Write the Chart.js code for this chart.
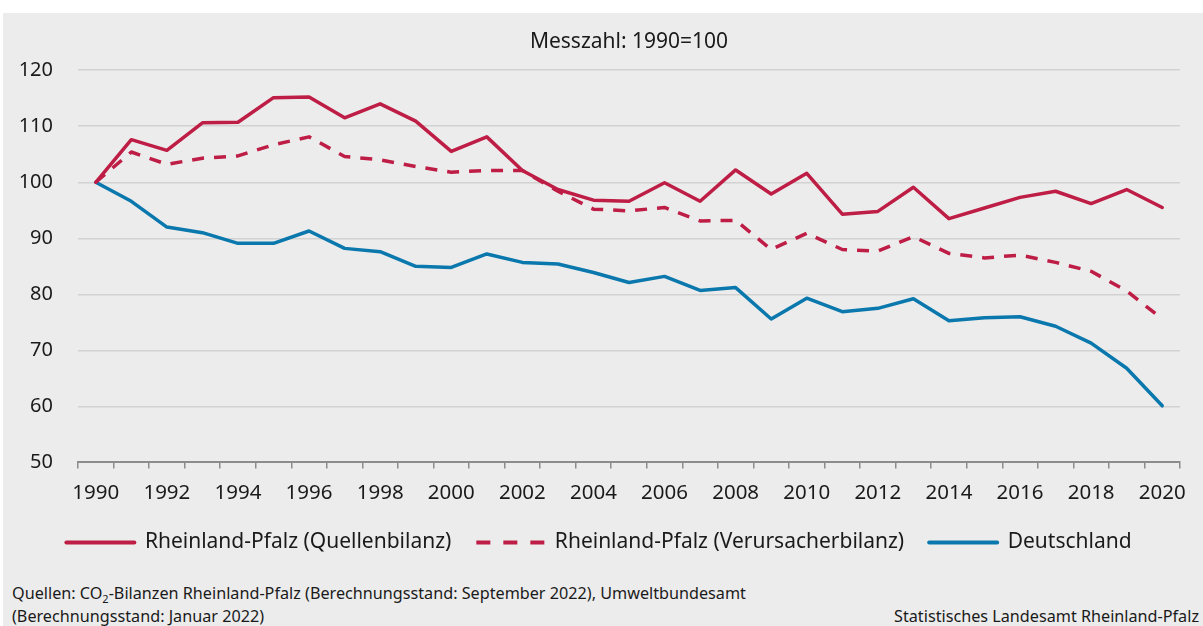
<!DOCTYPE html>
<html lang="de">
<head>
<meta charset="utf-8">
<title>CO2-Emissionen Messzahl</title>
<script src="https://cdn.jsdelivr.net/npm/chart.js@4.4.1/dist/chart.umd.min.js"></script>
<style>
    html, body { margin: 0; padding: 0; background: #ffffff; }
    #panel {
        position: absolute; left: 3px; top: 13px; width: 1200px; height: 613px;
        background: #ececec; font-family: "Noto Sans", "Open Sans", sans-serif; color: #1a1a1a;
    }
    #chartBox { position: absolute; left: 0; top: 0; width: 1200px; height: 550px; }
    .note { position: absolute; font-size: 16.2px; line-height: 23px; white-space: nowrap; }
    #src { left: 9px; top: 569px; }
    #org { right: 4px; top: 592px; }
</style>
</head>
<body>
<div id="panel">
    <div id="chartBox"><canvas id="co2Chart"></canvas></div>
    <div class="note" id="src">Quellen: CO<sub style="font-size:11px;line-height:0">2</sub>-Bilanzen Rheinland-Pfalz (Berechnungsstand: September 2022), Umweltbundesamt<br>(Berechnungsstand: Januar 2022)</div>
    <div class="note" id="org">Statistisches Landesamt Rheinland-Pfalz</div>
</div>
<script>
// Data (Messzahl 1990 = 100)
const years = ['1990', '1991', '1992', '1993', '1994', '1995', '1996', '1997', '1998', '1999',
    '2000', '2001', '2002', '2003', '2004', '2005', '2006', '2007', '2008', '2009',
    '2010', '2011', '2012', '2013', '2014', '2015', '2016', '2017', '2018', '2019', '2020'];

const rlpQuellen = [100, 107.6, 105.7, 110.6, 110.7, 115.1, 115.2, 111.5, 114.0, 110.9,
    105.5, 108.1, 102.1, 98.7, 96.8, 96.6, 99.9, 96.6, 102.2, 97.9,
    101.6, 94.3, 94.8, 99.1, 93.5, 95.4, 97.3, 98.4, 96.2, 98.7, 95.5];

const rlpVerursacher = [100, 105.4, 103.2, 104.3, 104.7, 106.7, 108.1, 104.6, 104.0, 102.8,
    101.8, 102.1, 102.1, 98.4, 95.2, 94.9, 95.5, 93.1, 93.2, 88.0,
    90.9, 88.0, 87.7, 90.3, 87.3, 86.5, 87.0, 85.7, 84.1, 80.6, 75.6];

const deutschland = [100, 96.6, 92.0, 91.0, 89.1, 89.1, 91.3, 88.2, 87.6, 85.0,
    84.8, 87.2, 85.7, 85.4, 83.9, 82.1, 83.2, 80.7, 81.2, 75.6,
    79.3, 76.9, 77.5, 79.2, 75.3, 75.8, 76.0, 74.3, 71.3, 66.8, 60.1];

const seriesNames = ['Rheinland-Pfalz (Quellenbilanz)', 'Rheinland-Pfalz (Verursacherbilanz)', 'Deutschland'];
const yTicks = [50, 60, 70, 80, 90, 100, 110, 120];

const RED = '#be1d45';
const BLUE = '#0a78ad';
const FONT = '"Noto Sans", "Open Sans", sans-serif';

function lineSet(label, data, color, dash) {
    return {
        label: label,
        data: data,
        borderColor: color,
        backgroundColor: color,
        borderWidth: 3.5,
        borderDash: dash,
        borderCapStyle: dash.length ? 'butt' : 'round',
        borderJoinStyle: 'round',
        pointRadius: 0,
        pointHoverRadius: 0,
        tension: 0,
        fill: false
    };
}

// legend keeps the line dash of each dataset (point style would drop it)
function legendLabels(chart) {
    const items = Chart.defaults.plugins.legend.labels.generateLabels(chart);
    return items.map((item, i) => {
        const dashed = chart.data.datasets[i].borderDash.length > 0;
        item.lineDash = dashed ? [14, 13] : [];
        item.lineCap = dashed ? 'butt' : 'round';
        item.lineWidth = 4;
        return item;
    });
}

const ctx = document.getElementById('co2Chart').getContext('2d');
const chart = new Chart(ctx, {
    type: 'line',
    data: {
        labels: years,
        datasets: [
            lineSet(seriesNames[0], rlpQuellen, RED, []),
            lineSet(seriesNames[1], rlpVerursacher, RED, [12, 10]),
            lineSet(seriesNames[2], deutschland, BLUE, [])
        ]
    },
    options: {
        responsive: true,
        maintainAspectRatio: false,
        animation: false,
        layout: { padding: { left: 15, right: 23, top: 0, bottom: 0 } },
        plugins: {
            tooltip: { enabled: false },
            title: {
                display: true,
                fullSize: false,
                text: 'Messzahl: 1990=100',
                color: '#1a1a1a',
                font: { family: FONT, size: 21, weight: 'normal' },
                padding: { top: 16, bottom: 16 }
            },
            legend: {
                position: 'bottom',
                labels: {
                    color: '#1a1a1a',
                    font: { family: FONT, size: 21 },
                    usePointStyle: true,
                    pointStyle: 'line',
                    pointStyleWidth: 68,
                    padding: 25,
                    generateLabels: legendLabels
                }
            }
        },
        scales: {
            x: {
                type: 'category',
                offset: true,
                afterFit: function (scale) { scale.height -= 10; },
                grid: {
                    offset: true,
                    drawOnChartArea: false,
                    drawTicks: true,
                    tickLength: 6,
                    color: '#8c8c8c',
                    lineWidth: 1.5
                },
                border: { display: true, color: '#8c8c8c', width: 2 },
                ticks: {
                    autoSkip: false,
                    maxRotation: 0,
                    padding: 12,
                    color: '#1a1a1a',
                    font: { family: FONT, size: 20.5 },
                    callback: function (value, index) {
                        const y = years[index];
                        return Number(y) % 2 === 0 ? y : '';
                    }
                }
            },
            y: {
                min: yTicks[0],
                max: yTicks[yTicks.length - 1],
                afterFit: function (scale) { scale.width = 60; },
                afterBuildTicks: function (scale) {
                    scale.ticks = yTicks.map(v => ({ value: v }));
                },
                grid: {
                    drawTicks: false,
                    color: c => c.tick && c.tick.value === yTicks[0] ? 'rgba(0,0,0,0)' : '#d2d2d2',
                    lineWidth: 1.5
                },
                border: { display: false },
                ticks: {
                    padding: 25,
                    color: '#1a1a1a',
                    font: { family: FONT, size: 20 }
                }
            }
        }
    }
});
</script>
</body>
</html>
